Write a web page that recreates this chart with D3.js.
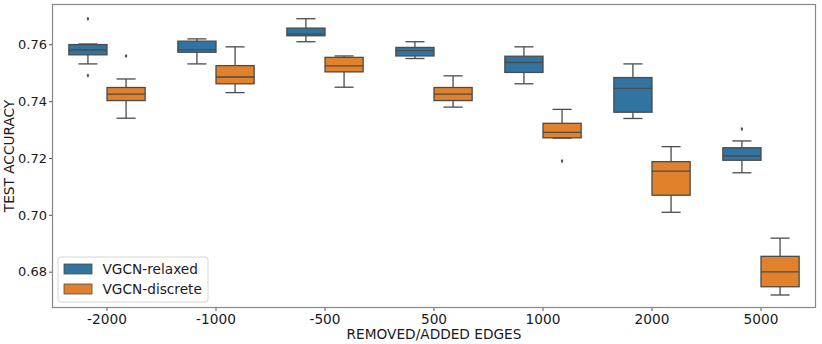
<!DOCTYPE html>
<html lang="en">
<head>
<meta charset="UTF-8">
<script src="https://cdnjs.cloudflare.com/ajax/libs/d3/7.8.5/d3.min.js"></script>
<style>
body{ margin:0; background:#fff; }
svg text{ font-family: "DejaVu Sans", sans-serif; fill:#1a1a1a; }
</style>
</head>
<body>
<div id="chart"></div>
<script>
/* global d3 */

// box stats, one entry per category
const categories = ['-2000', '-1000', '-500', '500', '1000', '2000', '5000'];
const seriesNames = ['VGCN-relaxed', 'VGCN-discrete'];
const yTicks = [0.68, 0.70, 0.72, 0.74, 0.76];

const relaxedLow    = [0.7531, 0.7531, 0.7609, 0.7550, 0.7461, 0.7339, 0.7148];
const relaxedQ1     = [0.7563, 0.7572, 0.7630, 0.7559, 0.7501, 0.7361, 0.7192];
const relaxedMedian = [0.7580, 0.7581, 0.7636, 0.7578, 0.7536, 0.7445, 0.7207];
const relaxedQ3     = [0.7599, 0.7611, 0.7657, 0.7589, 0.7558, 0.7483, 0.7236];
const relaxedHigh   = [0.7601, 0.7619, 0.7690, 0.7609, 0.7591, 0.7531, 0.7260];
const relaxedOutliers = [[0.7690, 0.7490], [], [], [], [], [], [0.7302]];

const discreteLow    = [0.7340, 0.7430, 0.7449, 0.7379, 0.7270, 0.7009, 0.6718];
const discreteQ1     = [0.7402, 0.7461, 0.7503, 0.7402, 0.7271, 0.7069, 0.6747];
const discreteMedian = [0.7425, 0.7485, 0.7524, 0.7425, 0.7290, 0.7154, 0.6799];
const discreteQ3     = [0.7448, 0.7525, 0.7554, 0.7448, 0.7322, 0.7187, 0.6854];
const discreteHigh   = [0.7478, 0.7591, 0.7559, 0.7489, 0.7371, 0.7240, 0.6918];
const discreteOutliers = [[0.7559], [], [], [], [0.7189], [], []];

const colors = ['#3274a1', '#e1812c'];

const W = 822, H = 344;
const margin = {top: 4.5, right: 6.5, bottom: 36.5, left: 52.5};
const w = W - margin.left - margin.right;
const h = H - margin.top - margin.bottom;

const boxes = [];
categories.forEach((c, i) => {
  boxes.push({cat: c, s: seriesNames[0], lo: relaxedLow[i], q1: relaxedQ1[i], med: relaxedMedian[i], q3: relaxedQ3[i], hi: relaxedHigh[i], out: relaxedOutliers[i]});
  boxes.push({cat: c, s: seriesNames[1], lo: discreteLow[i], q1: discreteQ1[i], med: discreteMedian[i], q3: discreteQ3[i], hi: discreteHigh[i], out: discreteOutliers[i]});
});

const svg = d3.select('#chart').append('svg').attr('width', W).attr('height', H);
const g = svg.append('g').attr('transform', 'translate(' + margin.left + ',' + margin.top + ')');

const x = d3.scaleBand().domain(categories).range([0, w]).padding(0);
const xInner = d3.scaleBand().domain(seriesNames).range([x.bandwidth() * 0.15, x.bandwidth() * 0.85]);
const y = d3.scaleLinear().domain([0.6674, 0.7740]).range([h, 0]);
const color = d3.scaleOrdinal().domain(seriesNames).range(colors);

const lineCol = '#4b4b4b';
const bw = xInner.bandwidth();

const bg = g.selectAll('g.box').data(boxes).enter().append('g')
  .attr('class', 'box')
  .attr('transform', d => 'translate(' + (x(d.cat) + xInner(d.s)) + ',0)');

// whiskers
bg.append('line').attr('x1', bw / 2).attr('x2', bw / 2).attr('y1', d => y(d.q3)).attr('y2', d => y(d.hi))
  .attr('stroke', lineCol).attr('stroke-width', 1.3);
bg.append('line').attr('x1', bw / 2).attr('x2', bw / 2).attr('y1', d => y(d.q1)).attr('y2', d => y(d.lo))
  .attr('stroke', lineCol).attr('stroke-width', 1.3);
bg.append('line').attr('x1', bw / 4).attr('x2', bw * 3 / 4).attr('y1', d => y(d.hi)).attr('y2', d => y(d.hi))
  .attr('stroke', lineCol).attr('stroke-width', 1.3);
bg.append('line').attr('x1', bw / 4).attr('x2', bw * 3 / 4).attr('y1', d => y(d.lo)).attr('y2', d => y(d.lo))
  .attr('stroke', lineCol).attr('stroke-width', 1.3);
// box
bg.append('rect').attr('x', 0).attr('width', bw)
  .attr('y', d => y(d.q3)).attr('height', d => y(d.q1) - y(d.q3))
  .attr('fill', d => color(d.s)).attr('stroke', lineCol).attr('stroke-width', 1.3);
// median
bg.append('line').attr('x1', 0).attr('x2', bw).attr('y1', d => y(d.med)).attr('y2', d => y(d.med))
  .attr('stroke', lineCol).attr('stroke-width', 1.3);
// outliers
bg.selectAll('path.out').data(d => d.out).enter().append('path')
  .attr('class', 'out')
  .attr('d', d3.symbol().type(d3.symbolDiamond).size(6))
  .attr('transform', v => 'translate(' + bw / 2 + ',' + y(v) + ')')
  .attr('fill', lineCol);

// axes
const xAxis = g.append('g').attr('transform', 'translate(0,' + h + ')')
  .call(d3.axisBottom(x).tickSizeOuter(0).tickSize(3.5).tickPadding(3.5));
const yAxis = g.append('g')
  .call(d3.axisLeft(y).tickValues(yTicks).tickFormat(d3.format('.2f')).tickSizeOuter(0).tickSize(3.5).tickPadding(2));
[xAxis, yAxis].forEach(a => {
  a.select('.domain').remove();
  a.selectAll('line').attr('stroke', '#555');
  a.selectAll('text').attr('fill', '#1a1a1a');
});
xAxis.selectAll('text').style('font-size', '13.7px');
yAxis.selectAll('text').style('font-size', '13px');

// frame
g.append('rect').attr('x', 0).attr('y', 0).attr('width', w).attr('height', h)
  .attr('fill', 'none').attr('stroke', '#888').attr('stroke-width', 1.2);

// labels
svg.append('text').attr('x', margin.left + w / 2).attr('y', 339)
  .attr('text-anchor', 'middle').style('font-size', '13.7px').text('REMOVED/ADDED EDGES');
svg.append('text').attr('transform', 'translate(13.5,' + (margin.top + h / 2) + ') rotate(-90)')
  .attr('text-anchor', 'middle').style('font-size', '13.7px').text('TEST ACCURACY');

// legend
const lg = svg.append('g').attr('transform', 'translate(58,257)');
lg.append('rect').attr('width', 150).attr('height', 45).attr('rx', 3)
  .attr('fill', '#fff').attr('fill-opacity', 0.8).attr('stroke', '#d6d6d6');
seriesNames.forEach((s, i) => {
  lg.append('rect').attr('x', 6).attr('y', 7 + i * 20).attr('width', 28).attr('height', 10)
    .attr('fill', colors[i]).attr('stroke', lineCol).attr('stroke-width', 0.8);
  lg.append('text').attr('x', 44.5).attr('y', 12 + i * 20).attr('dy', '0.35em')
    .style('font-size', '13.7px').text(s);
});
</script>
</body>
</html>
